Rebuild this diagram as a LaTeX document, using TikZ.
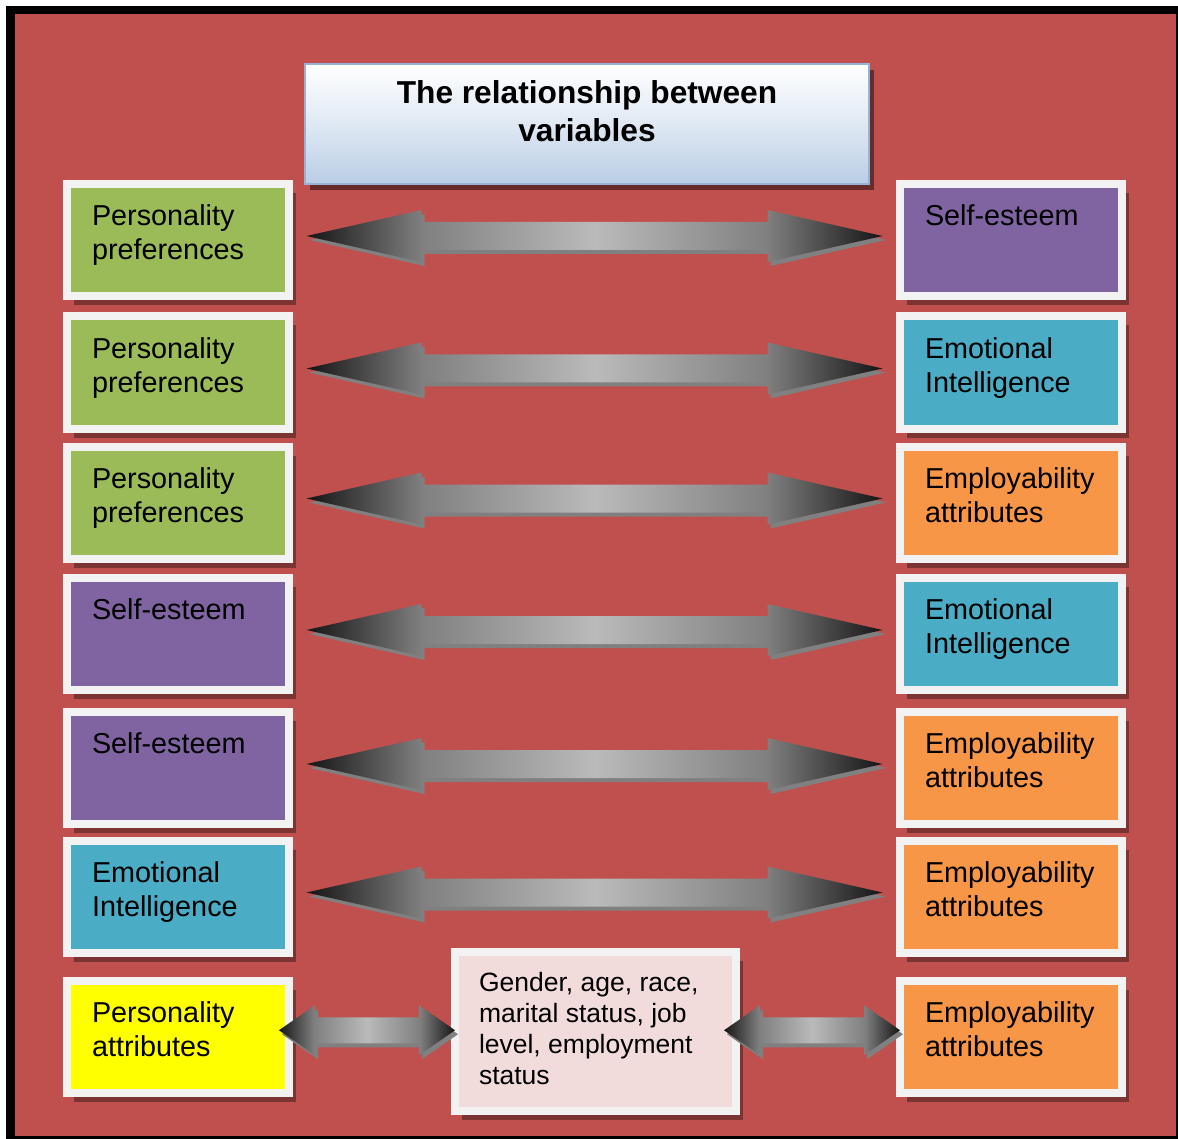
\documentclass[tikz,border=0pt]{standalone}
\usepackage{fontspec}
\setmainfont{Liberation Sans}
\usetikzlibrary{calc,shadows}

\definecolor{bgred}{HTML}{C0504D}
\definecolor{framewhite}{HTML}{F2F2F2}
\definecolor{vgreen}{HTML}{9BBB59}
\definecolor{vpurple}{HTML}{8064A2}
\definecolor{vteal}{HTML}{4BACC6}
\definecolor{vorange}{HTML}{F79646}
\definecolor{vyellow}{HTML}{FFFF00}
\definecolor{vpink}{HTML}{F2DCDB}
\definecolor{titleblue}{HTML}{B9CDE5}
\definecolor{titleedge}{HTML}{95B3D7}

\pgfdeclarehorizontalshading{arrowshade}{100bp}{color(0bp)=(black!92); color(25bp)=(black!92); color(35bp)=(black!50); color(50bp)=(black!27); color(65bp)=(black!50); color(75bp)=(black!92); color(100bp)=(black!92)}

\def\vtext#1{\hspace*{25pt}\parbox[c][70pt][t]{197pt}{\raggedright #1}}
\def\twoway(#1)(#2:#3:#4:#5){%
  \fill[black!50, shift={($(#1)+(3,4)$)}] (-#2,0) -- (-#2+#3,-#4) -- (-#2+#3,-#5) -- (#2-#3,-#5) -- (#2-#3,-#4) -- (#2,0) -- (#2-#3,#4) -- (#2-#3,#5) -- (-#2+#3,#5) -- (-#2+#3,#4) -- cycle;
  \shade[shading=arrowshade, shift={(#1)}] (-#2,0) -- (-#2+#3,-#4) -- (-#2+#3,-#5) -- (#2-#3,-#5) -- (#2-#3,-#4) -- (#2,0) -- (#2-#3,#4) -- (#2-#3,#5) -- (-#2+#3,#5) -- (-#2+#3,#4) -- cycle;}

\tikzset{
  var/.style={draw=framewhite, line width=8pt, inner sep=0pt, minimum width=222pt, minimum height=112pt,
    font=\fontsize{28.8}{34}\selectfont,
    drop shadow={shadow xshift=7pt, shadow yshift=-9pt, opacity=.35, fill=black}},
  demobox/.style={var, fill=vpink, minimum width=281pt, minimum height=159pt, font=\fontsize{26.5}{31}\selectfont},
  titlebox/.style={draw=titleedge, line width=2pt, inner sep=0pt, minimum width=564pt, minimum height=120pt,
    top color=white, bottom color=titleblue, middle color=titleblue!45,
    font=\fontsize{31.7}{38}\selectfont\bfseries,
    drop shadow={shadow xshift=5pt, shadow yshift=-6pt, opacity=.45, fill=black}},
}

\begin{document}
\begin{tikzpicture}[x=1pt,y=-1pt]
		%%%%% START %%%%%
		\useasboundingbox (0,0) rectangle (1178,1139);
		\fill[white] (0,0) rectangle (1178,1139);
		\fill[black] (6,6) rectangle (1178,1139);
		\fill[bgred] (15,14) rectangle (1176,1136);

		\node[titlebox] (title) at (587,124) {\parbox[c][86pt][t]{564pt}{\centering The relationship between\\variables}};

		\node[var, fill=vgreen] (pers1) at (178,240) {\vtext{Personality\\preferences}};
		\node[var, fill=vpurple] (selfR) at (1011,240) {\vtext{Self-esteem}};

		\node[var, fill=vgreen] (pers2) at (178,372.5) {\vtext{Personality\\preferences}};
		\node[var, fill=vteal] (emoR1) at (1011,372.5) {\vtext{Emotional\\Intelligence}};

		\node[var, fill=vgreen] (pers3) at (178,502.5) {\vtext{Personality\\preferences}};
		\node[var, fill=vorange] (empR1) at (1011,502.5) {\vtext{Employability\\attributes}};

		\node[var, fill=vpurple] (self1) at (178,634) {\vtext{Self-esteem}};
		\node[var, fill=vteal] (emoR2) at (1011,634) {\vtext{Emotional\\Intelligence}};

		\node[var, fill=vpurple] (self2) at (178,768) {\vtext{Self-esteem}};
		\node[var, fill=vorange] (empR2) at (1011,768) {\vtext{Employability\\attributes}};

		\node[var, fill=vteal] (emo1) at (178,896.5) {\vtext{Emotional\\Intelligence}};
		\node[var, fill=vorange] (empR3) at (1011,896.5) {\vtext{Employability\\attributes}};

		\node[var, fill=vyellow] (persattr) at (178,1037) {\vtext{Personality\\attributes}};
		\node[demobox] (demo) at (595.5,1031.5) {\hspace*{24pt}\parbox[c][119pt][t]{257pt}{\raggedright Gender, age, race,\\marital status, job\\level, employment\\status}};
		\node[var, fill=vorange] (empR4) at (1011,1037) {\vtext{Employability\\attributes}};

		% block arrows between the pairs
		\coordinate (a1) at ($(pers1.east)!.5!(selfR.west)+(0,-4)$);
		\coordinate (a2) at ($(pers2.east)!.5!(emoR1.west)+(0,-4)$);
		\coordinate (a3) at ($(pers3.east)!.5!(empR1.west)+(0,-4)$);
		\coordinate (a4) at ($(self1.east)!.5!(emoR2.west)+(0,-4)$);
		\coordinate (a5) at ($(self2.east)!.5!(empR2.west)+(0,-4)$);
		\coordinate (a6) at ($(emo1.east)!.5!(empR3.west)+(0,-4)$);
		\coordinate (a7) at ($(persattr.east)!.5!(demo.west)+(-5,-4)$);
		\coordinate (a8) at ($(demo.east)!.5!(empR4.west)+(-6,-4)$);

		\twoway(a1)(288:115:26:14)
		\twoway(a2)(288:115:26:14)
		\twoway(a3)(288:115:26:14)
		\twoway(a4)(288:115:26:14)
		\twoway(a5)(288:115:26:14)
		\twoway(a6)(288:115:26:14)
		\twoway(a7)(88:36:25:13)
		\twoway(a8)(88:36:25:13)
		%%%%% END %%%%%
\end{tikzpicture}
\end{document}
